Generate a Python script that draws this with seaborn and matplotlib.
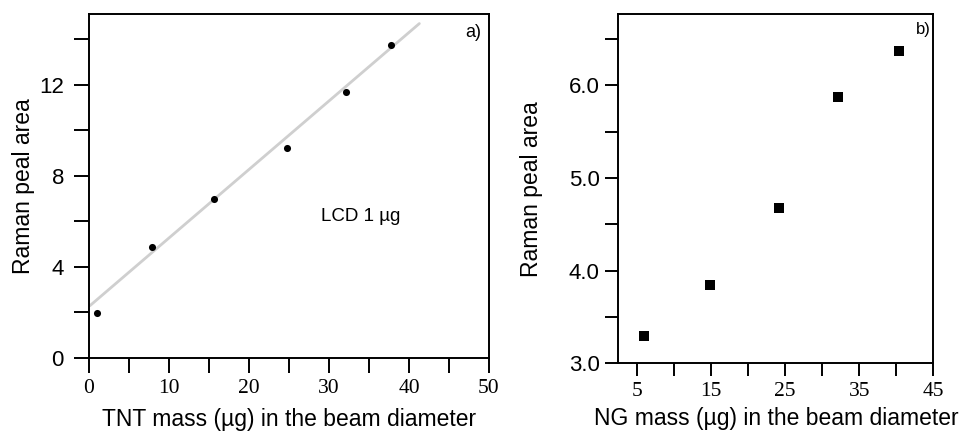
import matplotlib
matplotlib.use("Agg")
import matplotlib.pyplot as plt
from matplotlib.ticker import MultipleLocator, FixedLocator, FormatStrFormatter
import seaborn as sns

# panel a) TNT
tnt_mass = [1.0, 7.9, 15.6, 24.8, 32.1, 37.8]
tnt_area = [1.99, 4.88, 7.0, 9.22, 11.68, 13.76]
tnt_fit_x = [0.1, 41.3]
tnt_fit_y = [2.29, 14.68]

# panel b) NG
ng_mass = [6.0, 14.9, 24.2, 32.2, 40.3]
ng_area = [3.29, 3.84, 4.68, 5.87, 6.37]

sns.set_style("ticks")
plt.rcParams['font.family'] = ['Liberation Sans', 'DejaVu Sans']
plt.rcParams['text.color'] = 'black'
plt.rcParams['axes.labelcolor'] = 'black'
plt.rcParams['xtick.labelcolor'] = 'black'
plt.rcParams['ytick.labelcolor'] = 'black'

fig = plt.figure(figsize=(9.69, 4.32), dpi=100)
ax1 = fig.add_axes([0.0918, 0.1713, 0.4128, 0.7963])
ax2 = fig.add_axes([0.6381, 0.159, 0.3251, 0.8086])

# a)
sns.lineplot(x=tnt_fit_x, y=tnt_fit_y, ax=ax1, color='#cfcfcf', linewidth=2.0)
sns.scatterplot(x=tnt_mass, y=tnt_area, ax=ax1, color='black', s=26, linewidth=0, zorder=3)
ax1.set_xlim(0, 50)
ax1.set_ylim(0, 15.1)
ax1.xaxis.set_major_locator(MultipleLocator(10))
ax1.xaxis.set_minor_locator(MultipleLocator(5))
ax1.yaxis.set_major_locator(MultipleLocator(4))
ax1.yaxis.set_minor_locator(MultipleLocator(2))
ax1.set_xlabel('TNT mass (µg) in the beam diameter', fontsize=16.5, labelpad=7)
ax1.set_ylabel('Raman peal area', fontsize=16.5, labelpad=3)
ax1.text(0.94, 0.945, 'a)', transform=ax1.transAxes, fontsize=13, va='center', ha='left')
ax1.text(0.68, 0.41, 'LCD 1 µg', transform=ax1.transAxes, fontsize=13.5, va='center', ha='center')

# b)
sns.scatterplot(x=ng_mass, y=ng_area, ax=ax2, color='black', marker='s', s=42, linewidth=0, zorder=3)
ax2.set_xlim(2.5, 45)
ax2.set_ylim(3.0, 6.77)
ax2.xaxis.set_major_locator(FixedLocator([5, 15, 25, 35, 45]))
ax2.xaxis.set_minor_locator(FixedLocator([10, 20, 30, 40]))
ax2.yaxis.set_major_locator(FixedLocator([3.0, 4.0, 5.0, 6.0]))
ax2.yaxis.set_minor_locator(FixedLocator([3.5, 4.5, 5.5, 6.5]))
ax2.yaxis.set_major_formatter(FormatStrFormatter('%.1f'))
ax2.set_xlabel('NG mass (µg) in the beam diameter', fontsize=16.5, labelpad=4)
ax2.set_ylabel('Raman peal area', fontsize=16.5, labelpad=18.5)
ax2.text(0.945, 0.955, 'b)', transform=ax2.transAxes, fontsize=12, va='center', ha='left')

for ax, tl, tp in [(ax1, 11, 7), (ax2, 9.5, 4)]:
    for sp in ax.spines.values():
        sp.set_linewidth(1.4)
        sp.set_visible(True)
        sp.set_color('black')
    ax.tick_params(which='both', direction='out', length=tl, width=1.4, color='black')
    ax.tick_params(axis='y', which='major', labelsize=16, pad=tp)
    ax.tick_params(axis='x', which='major', labelsize=15.5, pad=4)
    for lab in ax.get_xticklabels():
        lab.set_fontfamily('Liberation Serif')

fig.savefig('out.png', dpi=100)
